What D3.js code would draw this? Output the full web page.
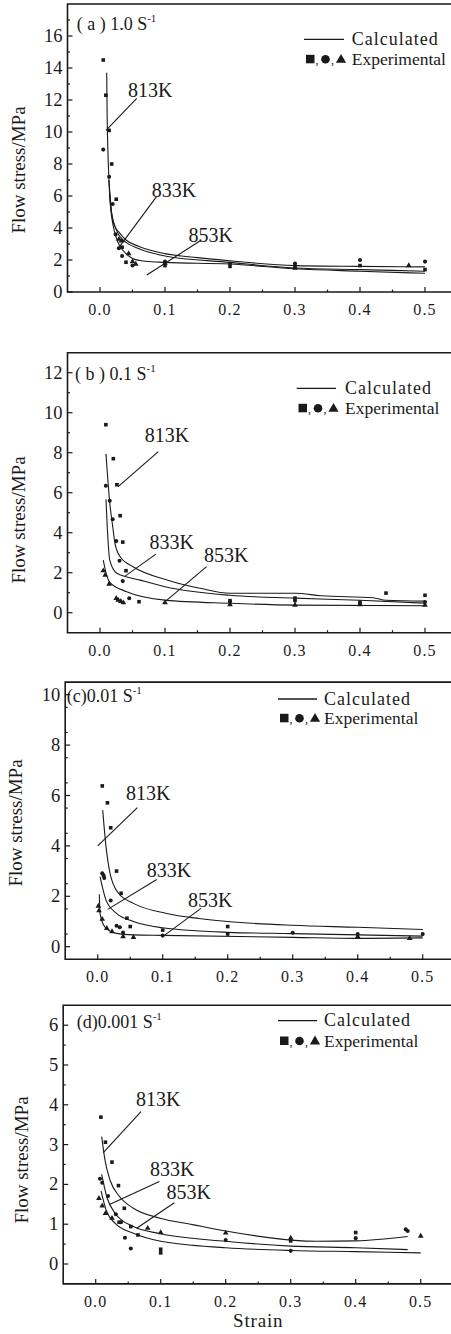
<!DOCTYPE html>
<html><head><meta charset="utf-8">
<script src="https://cdn.jsdelivr.net/npm/d3@7"></script>
<style>
body{margin:0;background:#fff}
svg{display:block}
svg text{font-family:"Liberation Serif","Tinos","Times New Roman",Times,serif !important;fill:#1a1a1a}
</style>
</head><body><svg id="chart" width="451" height="1334" font-family="Liberation Serif, Times New Roman, serif"></svg>
<script>
// ---------------- DATA ----------------
const temperatures = ["813K", "833K", "853K"];
const xTickValues = [0, 0.1, 0.2, 0.3, 0.4, 0.5];
const xTickLabels = ["0.0", "0.1", "0.2", "0.3", "0.4", "0.5"];
const xMinorTicks = [0.05, 0.15, 0.25, 0.35, 0.45];
const yTicksA = [0, 2, 4, 6, 8, 10, 12, 14, 16];
const yTicksB = [0, 2, 4, 6, 8, 10, 12];
const yTicksC = [0, 2, 4, 6, 8, 10];
const yTicksD = [0, 1, 2, 3, 4, 5, 6];
const panelTitles = ["( a ) 1.0 S", "( b ) 0.1 S", "(c)0.01 S", "(d)0.001 S"];
const legendLabels = ["Calculated", "Experimental"];
const xAxisTitle = "Strain";
const yAxisTitle = "Flow stress/MPa";

// (a) 1.0 s^-1 experimental [strain, stress]
const expA813 = [[0.005,14.5],[0.009,12.3],[0.014,10.1],[0.018,8.0],[0.025,5.8],[0.034,2.8],[0.04,1.86],[0.1,1.65],[0.2,1.6],[0.3,1.6],[0.4,1.65],[0.5,1.4]];
const expA833 = [[0.005,8.9],[0.014,7.2],[0.0195,5.5],[0.024,3.6],[0.029,2.73],[0.034,2.25],[0.05,1.66],[0.1,1.9],[0.2,1.78],[0.3,1.78],[0.4,2.0],[0.5,1.9]];
const expA853 = [[0.029,3.3],[0.033,3.2],[0.044,2.4],[0.05,1.9],[0.055,1.75],[0.1,1.8],[0.3,1.5],[0.475,1.65]];
// (a) calculated
const calcA813 = [[0.0103,13.7],[0.011,11],[0.012,9],[0.0135,7.3],[0.0155,6],[0.018,4.9],[0.023,4.1],[0.03,3.7],[0.04,3.25],[0.06,2.85],[0.1,2.4],[0.15,2.15],[0.2,1.95],[0.3,1.65],[0.4,1.6],[0.5,1.57]];
const calcA833 = [[0.0135,7.0],[0.016,5.5],[0.02,4.5],[0.025,3.9],[0.03,3.5],[0.04,3.1],[0.06,2.7],[0.1,2.25],[0.2,1.85],[0.3,1.5],[0.4,1.4],[0.5,1.3]];
const calcA853 = [[0.0145,6.3],[0.017,5.0],[0.02,4.2],[0.025,3.4],[0.03,2.9],[0.04,2.4],[0.05,2.1],[0.07,1.92],[0.1,1.85],[0.2,1.75],[0.3,1.45],[0.4,1.3],[0.5,1.17]];

// (b) 0.1 s^-1
const expB813 = [[0.009,9.4],[0.0205,7.7],[0.026,6.4],[0.031,4.85],[0.035,3.53],[0.04,2.1],[0.06,0.55],[0.2,0.6],[0.3,0.73],[0.4,0.53],[0.44,0.98],[0.5,0.87]];
const expB833 = [[0.009,6.35],[0.015,5.6],[0.0195,4.67],[0.025,3.58],[0.03,2.6],[0.035,1.58],[0.045,0.72],[0.2,0.55],[0.3,0.6],[0.4,0.45],[0.5,0.53]];
const expB853 = [[0.005,2.1],[0.008,1.88],[0.014,1.43],[0.025,0.72],[0.028,0.63],[0.032,0.57],[0.036,0.5],[0.1,0.5],[0.2,0.4],[0.3,0.38],[0.4,0.4],[0.5,0.38]];
const calcB813 = [[0.0092,7.94],[0.015,5.5],[0.02,4.2],[0.023,3.47],[0.031,2.8],[0.051,2.3],[0.103,1.64],[0.154,1.22],[0.2,0.97],[0.3,0.97],[0.34,0.85],[0.42,0.75],[0.44,0.62],[0.5,0.58]];
const calcB833 = [[0.0092,5.67],[0.012,3.8],[0.015,2.63],[0.026,1.97],[0.062,1.63],[0.1,1.3],[0.2,0.87],[0.3,0.73],[0.4,0.62],[0.5,0.48]];
const calcB853 = [[0.005,2.63],[0.01,1.9],[0.015,1.52],[0.041,1.05],[0.1,0.63],[0.2,0.47],[0.3,0.38],[0.5,0.35]];

// (c) 0.01 s^-1
const expC813 = [[0.007,6.38],[0.015,5.71],[0.02,4.72],[0.029,3.0],[0.036,2.12],[0.045,1.13],[0.05,0.8],[0.1,0.66],[0.2,0.8]];
const expC833 = [[0.007,2.91],[0.009,2.83],[0.01,2.73],[0.02,1.83],[0.029,0.83],[0.034,0.77],[0.039,0.56],[0.1,0.44],[0.2,0.5],[0.3,0.55],[0.4,0.5],[0.5,0.5]];
const expC853 = [[0.001,1.61],[0.002,1.43],[0.007,1.09],[0.014,0.73],[0.022,0.6],[0.039,0.4],[0.055,0.37],[0.4,0.4],[0.48,0.33]];
const calcC813 = [[0.0077,5.42],[0.0128,3.97],[0.019,2.91],[0.032,2.12],[0.055,1.72],[0.106,1.32],[0.156,1.12],[0.2,1.0],[0.3,0.85],[0.4,0.77],[0.5,0.68]];
const calcC833 = [[0.0036,2.78],[0.0128,1.85],[0.029,1.32],[0.055,1.0],[0.1,0.75],[0.2,0.57],[0.3,0.52],[0.5,0.42]];
const calcC853 = [[0.0025,2.08],[0.0036,1.32],[0.011,0.79],[0.029,0.53],[0.055,0.47],[0.1,0.45],[0.3,0.37],[0.4,0.33],[0.5,0.35]];

// (d) 0.001 s^-1
const expD813 = [[0.008,3.69],[0.015,3.06],[0.025,2.56],[0.035,1.97],[0.044,1.4],[0.036,1.05],[0.054,0.94],[0.065,0.73],[0.1,0.37],[0.1,0.28],[0.3,0.58],[0.4,0.79]];
const expD833 = [[0.0066,2.14],[0.010,2.04],[0.019,1.71],[0.031,1.25],[0.039,1.05],[0.045,0.66],[0.054,0.39],[0.2,0.6],[0.3,0.33],[0.4,0.65],[0.477,0.87],[0.48,0.83]];
const expD853 = [[0.005,1.65],[0.010,1.46],[0.015,1.27],[0.025,1.15],[0.08,0.9],[0.1,0.79],[0.2,0.78],[0.3,0.65],[0.5,0.7]];
const calcD813 = [[0.0092,3.2],[0.0143,2.61],[0.022,2.11],[0.037,1.69],[0.058,1.4],[0.099,1.15],[0.149,0.99],[0.2,0.83],[0.3,0.6],[0.34,0.57],[0.4,0.58],[0.48,0.69]];
const calcD833 = [[0.0092,2.25],[0.017,1.69],[0.03,1.27],[0.058,0.94],[0.1,0.76],[0.2,0.57],[0.3,0.45],[0.4,0.41],[0.48,0.36]];
const calcD853 = [[0.0082,1.84],[0.016,1.36],[0.03,1.02],[0.058,0.77],[0.1,0.57],[0.2,0.41],[0.3,0.34],[0.4,0.31],[0.5,0.28]];

// annotation leaders: [labelStrain, labelStress, fromStrain, fromStress, toStrain, toStress]
const annotA = [[0.043,12.2,0.0565,12.1,0.0092,10.1],[0.0795,5.96,0.087,5.96,0.028,2.73],[0.136,3.14,0.156,3.25,0.072,1.06]];
const annotB = [[0.069,8.55,0.0897,8.05,0.028,6.3],[0.076,3.17,0.086,2.93,0.0385,1.83],[0.16,2.55,0.164,2.3,0.097,0.47]];
const annotC = [[0.0435,5.82,0.061,5.52,0.0,4.0],[0.0754,2.78,0.0908,2.67,0.0154,1.48],[0.139,1.59,0.159,1.52,0.101,0.42]];
const annotD = [[0.062,3.97,0.0697,3.83,0.0117,2.8],[0.0835,2.21,0.098,2.07,0.022,1.5],[0.109,1.63,0.121,1.54,0.063,0.9]];

// ---------------- LAYOUT ----------------
const ink = "#1a1a1a";
const serif = "Liberation Serif, Times New Roman, serif";
const panels = [
  {title: panelTitles[0], titlePos:[76.7,30], xRange:[67.5,457.5], yDomain:[0,18], yRange:[292,4], yTicks:yTicksA, yMinorStep:1,
   exp:[expA813,expA833,expA853], calc:[calcA813,calcA833,calcA853], annot:annotA,
   legend:{lx:[304,344], ly:39.3, tx:351.7, t1:44.5, t2:65, my:59.3, mx:306}, yTitle:[25,170], xTitle:false},
  {title: panelTitles[1], titlePos:[75,380], xRange:[67.5,457.5], yDomain:[-1,13], yRange:[632.7,352.7], yTicks:yTicksB, yMinorStep:1,
   exp:[expB813,expB833,expB853], calc:[calcB813,calcB833,calcB853], annot:annotB,
   legend:{lx:[296.7,336], ly:388.3, tx:345, t1:393.5, t2:413.5, my:408.3, mx:298.5}, yTitle:[25,520], xTitle:false},
  {title: panelTitles[2], titlePos:[66.7,701.7], xRange:[65.2,455.2], yDomain:[-0.5,10.5], yRange:[959.3,682.1], yTicks:yTicksC, yMinorStep:1,
   exp:[expC813,expC833,expC853], calc:[calcC813,calcC833,calcC853], annot:annotC,
   legend:{lx:[278,317], ly:699, tx:324, t1:704.5, t2:723.5, my:718.3, mx:280}, yTitle:[22,823], xTitle:false},
  {title: panelTitles[3], titlePos:[76.7,1028.3], xRange:[63.2,453.2], yDomain:[-0.5,6.5], yRange:[1283.9,1005.3], yTicks:yTicksD, yMinorStep:0.5,
   exp:[expD813,expD833,expD853], calc:[calcD813,calcD833,calcD853], annot:annotD,
   legend:{lx:[278,317], ly:1020.7, tx:324, t1:1026, t2:1047, my:1041, mx:280}, yTitle:[28,1160], xTitle:true}
];

const svg = d3.select("#chart");
const symbolTypes = [d3.symbolSquare, d3.symbolCircle, d3.symbolTriangle];
const symbolSizes = [13, 13, 14];

panels.forEach(p => {
  const x = d3.scaleLinear().domain([-0.05, 0.55]).range(p.xRange);
  const y = d3.scaleLinear().domain(p.yDomain).range(p.yRange);
  const g = svg.append("g").attr("font-family", serif);
  const left = p.xRange[0], top = p.yRange[1], bottom = p.yRange[0];

  g.append("path").attr("d", `M460,${top}H${left}V${bottom}H460`)
    .attr("fill","none").attr("stroke",ink).attr("stroke-width",1.6);

  g.selectAll(".xt").data(xTickValues).enter().append("line")
    .attr("x1",d=>x(d)).attr("x2",d=>x(d)).attr("y1",bottom).attr("y2",bottom-5)
    .attr("stroke",ink).attr("stroke-width",1.2);
  g.selectAll(".xm").data(xMinorTicks).enter().append("line")
    .attr("x1",d=>x(d)).attr("x2",d=>x(d)).attr("y1",bottom).attr("y2",bottom-2.5)
    .attr("stroke",ink).attr("stroke-width",1.2);
  g.selectAll(".xl").data(xTickValues).enter().append("text")
    .attr("x",d=>x(d)).attr("y",bottom+23).attr("text-anchor","middle")
    .attr("font-size",16).attr("letter-spacing",1.2)
    .text((d,i)=>xTickLabels[i]);

  const yMax = p.yDomain[1];
  const minor = d3.range(p.yDomain[0], yMax + 1e-9, p.yMinorStep).filter(v => !p.yTicks.includes(v) && v > p.yDomain[0] && v < yMax);
  g.selectAll(".ym").data(minor).enter().append("line")
    .attr("x1",left).attr("x2",left+2.5).attr("y1",d=>y(d)).attr("y2",d=>y(d))
    .attr("stroke",ink).attr("stroke-width",1.2);
  g.selectAll(".yt").data(p.yTicks).enter().append("line")
    .attr("x1",left).attr("x2",left+5).attr("y1",d=>y(d)).attr("y2",d=>y(d))
    .attr("stroke",ink).attr("stroke-width",1.2);
  g.selectAll(".yl").data(p.yTicks).enter().append("text")
    .attr("x",left-5).attr("y",d=>y(d)+6).attr("text-anchor","end")
    .attr("font-size",18.5).text(d=>d);

  g.append("text").attr("transform",`translate(${p.yTitle[0]},${p.yTitle[1]}) rotate(-90)`)
    .attr("text-anchor","middle").attr("font-size",19).text(yAxisTitle);
  if (p.xTitle) {
    g.append("text").attr("x", x(0.25)).attr("y", 1327).attr("text-anchor","middle")
      .attr("font-size",19).attr("letter-spacing",0.8).text(xAxisTitle);
  }

  const t = g.append("text").attr("x",p.titlePos[0]).attr("y",p.titlePos[1]).attr("font-size",18);
  t.append("tspan").text(p.title);
  t.append("tspan").attr("dy",-8).attr("font-size",11).text("-1");

  const line = d3.line().x(d=>x(d[0])).y(d=>y(d[1])).curve(d3.curveMonotoneX);
  p.calc.forEach(c => {
    g.append("path").attr("d", line(c)).attr("fill","none").attr("stroke",ink).attr("stroke-width",1.1);
  });

  p.exp.forEach((s, i) => {
    g.selectAll(null).data(s).enter().append("path")
      .attr("d", d3.symbol().type(symbolTypes[i]).size(symbolSizes[i]))
      .attr("transform", d => `translate(${x(d[0])},${y(d[1])})`)
      .attr("fill", ink);
  });

  p.annot.forEach((a, i) => {
    g.append("line").attr("x1",x(a[2])).attr("y1",y(a[3])).attr("x2",x(a[4])).attr("y2",y(a[5]))
      .attr("stroke",ink).attr("stroke-width",1.1);
    g.append("text").attr("x",x(a[0])).attr("y",y(a[1])).attr("font-size",20).text(temperatures[i]);
  });

  const L = p.legend;
  g.append("line").attr("x1",L.lx[0]).attr("x2",L.lx[1]).attr("y1",L.ly).attr("y2",L.ly)
    .attr("stroke",ink).attr("stroke-width",1.3);
  g.append("text").attr("x",L.tx).attr("y",L.t1).attr("font-size",18).attr("letter-spacing",1).text(legendLabels[0]);
  g.append("text").attr("x",L.tx).attr("y",L.t2).attr("font-size",17.5).text(legendLabels[1]);
  g.append("rect").attr("x",L.mx).attr("y",L.my-4.5).attr("width",8.5).attr("height",8.5).attr("fill",ink);
  g.append("text").attr("x",L.mx+9.5).attr("y",L.my+5).attr("font-size",12).text(",");
  g.append("circle").attr("cx",L.mx+19.5).attr("cy",L.my).attr("r",4.3).attr("fill",ink);
  g.append("text").attr("x",L.mx+25).attr("y",L.my+5).attr("font-size",12).text(",");
  g.append("path").attr("d", d3.symbol().type(d3.symbolTriangle).size(45))
    .attr("transform",`translate(${L.mx+35},${L.my+0.5})`).attr("fill",ink);
});
</script>
</body></html>
